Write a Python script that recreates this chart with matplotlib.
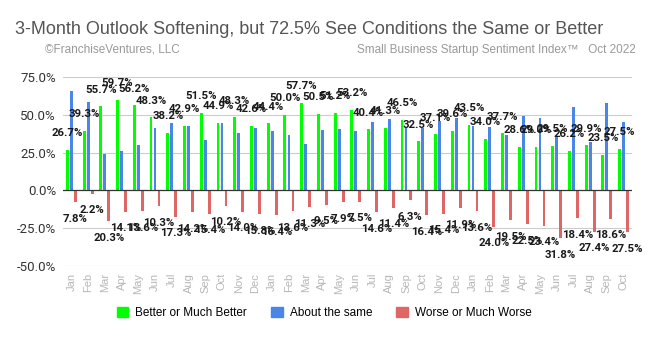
import numpy as np
import matplotlib.pyplot as plt
from matplotlib.patches import Patch

# Monthly survey responses, Jan 2020 - Oct 2022 (percent)
months = ['Jan', 'Feb', 'Mar', 'Apr', 'May', 'Jun', 'Jul', 'Aug', 'Sep', 'Oct', 'Nov', 'Dec',
          'Jan', 'Feb', 'Mar', 'Apr', 'May', 'Jun', 'Jul', 'Aug', 'Sep', 'Oct', 'Nov', 'Dec',
          'Jan', 'Feb', 'Mar', 'Apr', 'May', 'Jun', 'Jul', 'Aug', 'Sep', 'Oct']
better = [26.7, 39.3, 55.7, 59.7, 56.2, 48.3, 38.2, 42.9, 51.5, 44.9, 48.3, 42.6,
          44.4, 50.0, 57.7, 50.5, 51.2, 53.2, 40.4, 41.3, 46.5, 32.5, 37.1, 39.6,
          43.5, 34.0, 37.7, 28.6, 29.0, 29.5, 26.2, 29.9, 23.5, 27.5]
same = [65.5, 58.5, 24.0, 26.2, 30.2, 41.4, 44.5, 42.9, 33.1, 44.9, 37.7, 41.6,
        39.2, 36.4, 31.0, 40.0, 40.9, 39.3, 45.0, 47.3, 41.5, 41.1, 45.8, 48.2,
        42.7, 42.0, 36.4, 48.9, 47.6, 35.1, 55.4, 32.3, 57.9, 45.0]
worse = [7.8, 2.2, 20.3, 14.1, 13.6, 10.3, 17.3, 14.2, 15.4, 10.2, 14.0, 15.8,
         16.4, 13.6, 11.3, 9.5, 7.9, 7.5, 14.6, 11.4, 6.3, 16.4, 15.4, 11.9,
         13.6, 24.0, 19.5, 22.5, 23.4, 31.8, 18.4, 27.4, 18.6, 27.5]

green = '#00ff00'
blue = '#4a86e8'
red = '#e06666'

fig = plt.figure(figsize=(6.49, 3.38), dpi=100)
ax = fig.add_axes([63 / 649, 1 - 266 / 338, 569 / 649, 189 / 338])

x = np.arange(len(months))
w = 0.17
off = 0.24
ax.bar(x - off, better, w, color=green, zorder=2)
ax.bar(x, same, w, color=blue, zorder=2)
ax.bar(x + off, [-v for v in worse], w, color=red, zorder=2)

# value labels: above the green bars, below the red bars
for xi, v in zip(x, better):
    ax.annotate(f'{v:.1f}%', (xi - off, v), xytext=(0, 12), textcoords='offset points',
                ha='center', va='center', fontsize=8.2, fontweight='bold',
                family='Roboto', color='#1a1a1a', zorder=4)
for xi, v in zip(x, worse):
    ax.annotate(f'{v:.1f}%', (xi + off, -v), xytext=(0, -12), textcoords='offset points',
                ha='center', va='center', fontsize=8.2, fontweight='bold',
                family='Roboto', color='#1a1a1a', zorder=4)

ax.set_xlim(-0.5, len(months) - 0.5)
ax.set_ylim(-50, 75)
ax.set_yticks([-50, -25, 0, 25, 50, 75])
ax.set_yticklabels([f'{t:.1f}%' for t in [-50, -25, 0, 25, 50, 75]],
                   family='Roboto', fontsize=9.5, color='#333333')
for t in [-50, -25, 25, 50, 75]:
    ax.axhline(t, color='#cccccc', lw=0.8, zorder=1)
ax.axhline(0, color='#333333', lw=0.9, zorder=3)

ax.set_xticks(x)
ax.set_xticklabels(months, rotation=90, fontsize=8, color='#b7b7b7', family='Liberation Sans')
ax.tick_params(length=0, pad=5)
for s in ax.spines.values():
    s.set_visible(False)

fig.text(15 / 649, 1 - 29 / 338, '3-Month Outlook Softening, but 72.5% See Conditions the Same or Better',
         fontsize=13, color='#555555', family='Liberation Sans', va='center')
fig.text(45 / 649, 1 - 50 / 338, '\u00a9FranchiseVentures, LLC',
         fontsize=8.5, color='#999999', family='Liberation Sans', va='center')
fig.text(636 / 649, 1 - 50 / 338, 'Small Business Startup Sentiment Index\u2122   Oct 2022',
         fontsize=8.5, color='#999999', family='Liberation Sans', va='center', ha='right')

handles = [Patch(color=green, label='Better or Much Better'),
           Patch(color=blue, label='About the same'),
           Patch(color=red, label='Worse or Much Worse')]
fig.legend(handles=handles, loc='center', bbox_to_anchor=(324 / 649, 1 - 313 / 338),
           ncol=3, frameon=False, handlelength=1.0, handleheight=1.0, handletextpad=0.6,
           columnspacing=2.0, prop={'family': 'Liberation Sans', 'size': 8.5})

fig.savefig('out.png', dpi=100)
